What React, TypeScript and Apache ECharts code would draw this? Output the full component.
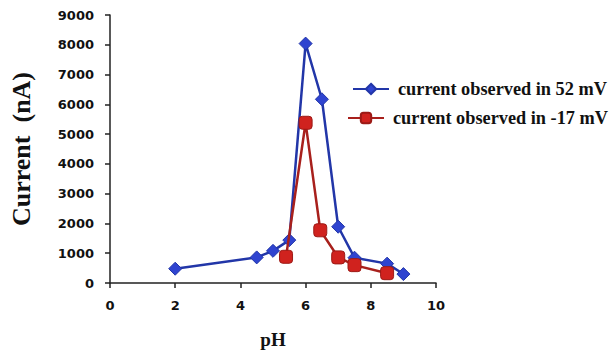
import React, { useEffect, useRef } from "react";
import * as echarts from "echarts";

const seriesNames = ["current observed in 52 mV", "current observed in -17 mV"];
const phBlue = [2, 4.5, 5, 5.5, 6, 6.5, 7, 7.5, 8.5, 9];
const currentBlue = [480, 860, 1080, 1440, 8040, 6170, 1890, 850, 650, 300];
const phRed = [5.4, 6, 6.45, 7, 7.5, 8.5];
const currentRed = [880, 5380, 1770, 860, 600, 330];

export default function App() {
  const ref = useRef<HTMLDivElement>(null);
  useEffect(() => {
    if (!ref.current) return;
    const chart = echarts.init(ref.current, undefined, { renderer: "svg" });
    const tickFont = { fontFamily: "DejaVu Sans", fontWeight: "bold" as const, fontSize: 13, color: "#111" };
    const legendText = { fontFamily: "Liberation Serif", fontWeight: "bold" as const, fontSize: 18.3, color: "#111" };
    chart.setOption({
      animation: false,
      backgroundColor: "#fff",
      grid: { left: 110, right: 177, top: 15, bottom: 67, outerBoundsMode: "none", containLabel: false },
      xAxis: {
        type: "value",
        min: 0,
        max: 10,
        interval: 2,
        name: "pH",
        nameLocation: "middle",
        nameGap: 47,
        nameTextStyle: { fontFamily: "Liberation Serif", fontWeight: "bold", fontSize: 19, color: "#111" },
        axisLine: { lineStyle: { color: "#222", width: 1.5 } },
        axisTick: { show: true, length: 5, lineStyle: { color: "#222", width: 1.5 } },
        axisLabel: { ...tickFont, margin: 16, formatter: (v: number) => String(v) },
        splitLine: { show: false },
      },
      yAxis: {
        type: "value",
        min: 0,
        max: 9000,
        interval: 1000,
        name: "Current  (nA)",
        nameLocation: "middle",
        nameGap: 76,
        nameTextStyle: { fontFamily: "Liberation Serif", fontWeight: "bold", fontSize: 26, color: "#111" },
        axisLine: { show: true, lineStyle: { color: "#222", width: 1.5 } },
        axisTick: { show: true, length: 5, lineStyle: { color: "#222", width: 1.5 } },
        axisLabel: { ...tickFont, margin: 16, formatter: (v: number) => String(v) },
        splitLine: { show: false },
      },
      legend: [
        {
          data: [seriesNames[0]],
          left: 352,
          top: 80,
          padding: 0,
          itemWidth: 36,
          itemHeight: 13,
          itemGap: 8,
          textStyle: { ...legendText, padding: [0, 0, 0, 4] },
        },
        {
          data: [seriesNames[1]],
          left: 347,
          top: 109,
          padding: 0,
          itemWidth: 36,
          itemHeight: 13,
          itemGap: 8,
          textStyle: { ...legendText, padding: [0, 0, 0, 4] },
        },
      ],
      series: [
        {
          name: seriesNames[0],
          type: "line",
          data: phBlue.map((x, i) => [x, currentBlue[i]]),
          symbol: "diamond",
          symbolSize: 13,
          lineStyle: { color: "#2236a8", width: 2.5 },
          itemStyle: { color: "#2f44d0", borderColor: "#2236a8", borderWidth: 1 },
          z: 2,
        },
        {
          name: seriesNames[1],
          type: "line",
          data: phRed.map((x, i) => [x, currentRed[i]]),
          symbol: "roundRect",
          symbolSize: 13,
          lineStyle: { color: "#a8201c", width: 2.5 },
          itemStyle: { color: "#d0221e", borderColor: "#9c1a16", borderWidth: 1 },
          z: 3,
        },
      ],
    });
    return () => chart.dispose();
  }, []);
  return <div ref={ref} style={{ position: "absolute", left: 0, top: 0, width: 613, height: 350 }} />;
}
